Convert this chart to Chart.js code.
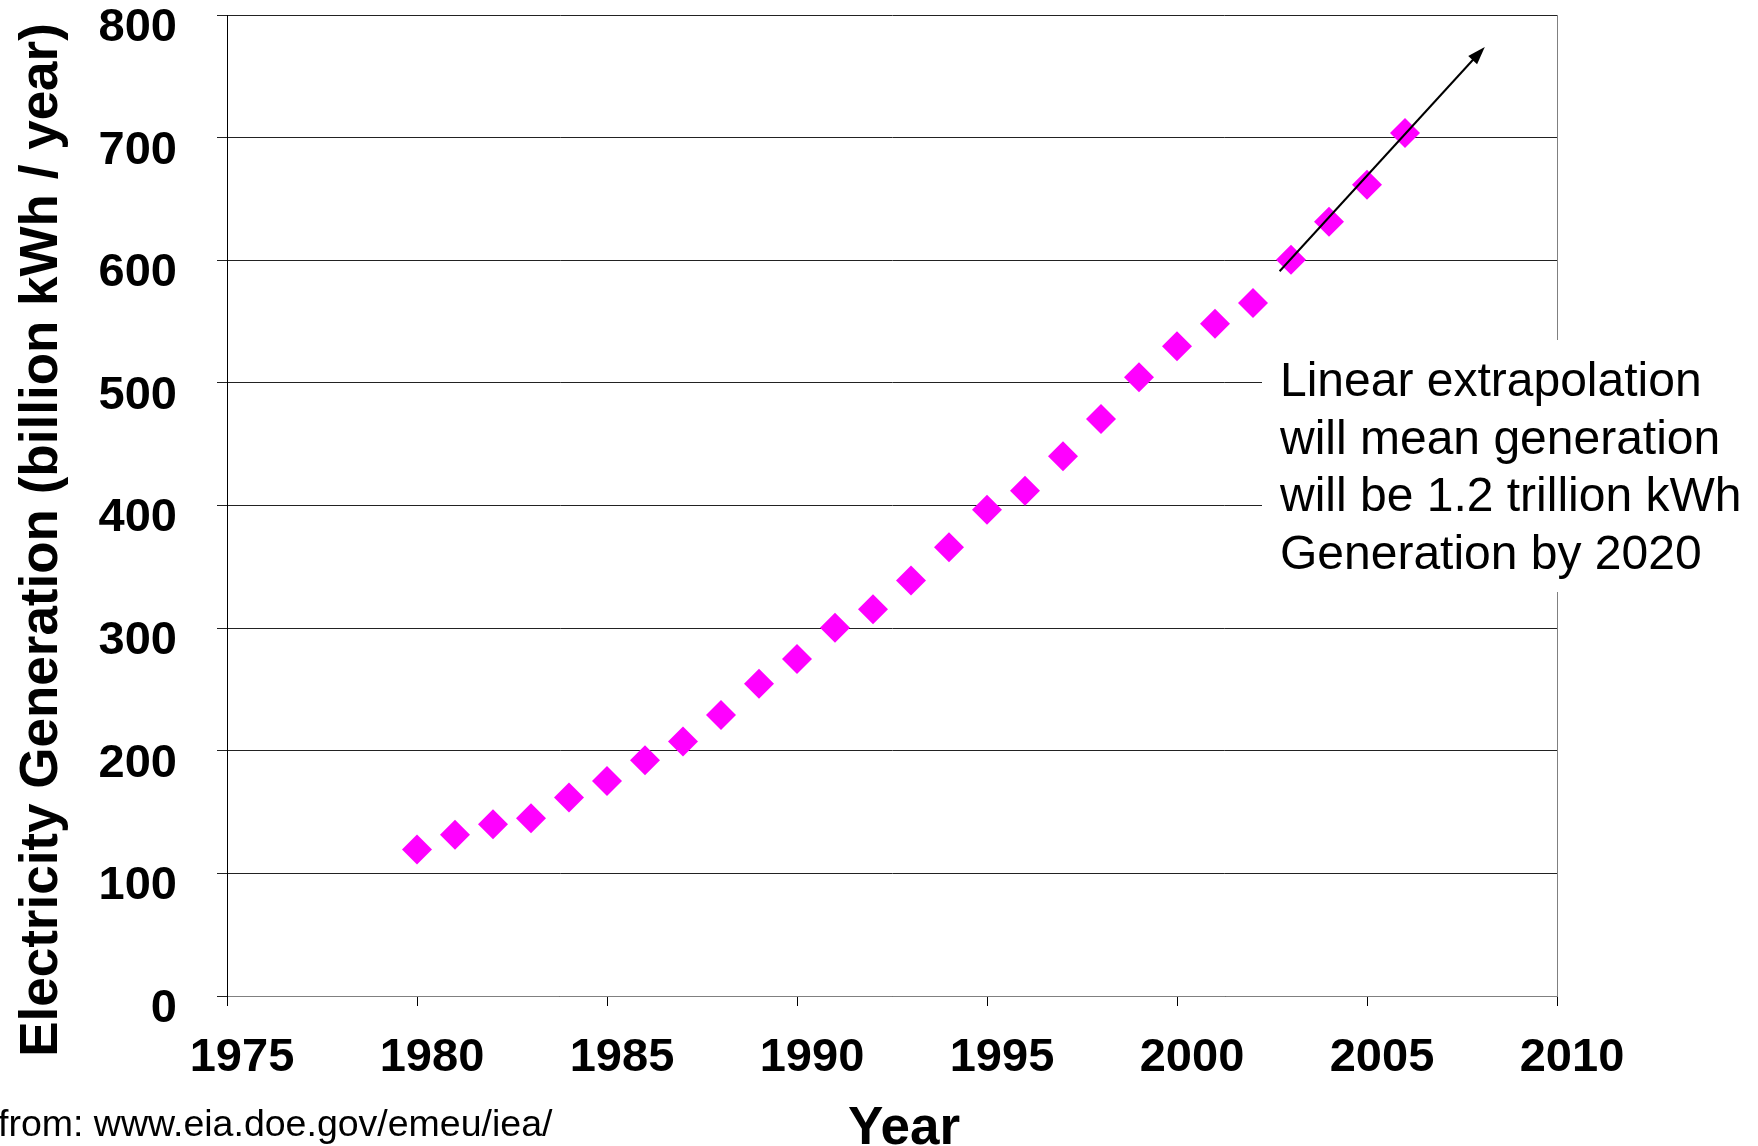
<!DOCTYPE html>
<html>
<head>
<meta charset="utf-8">
<script src="https://cdn.jsdelivr.net/npm/chart.js@4.4.1/dist/chart.umd.min.js"></script>
<style>
  html, body { margin: 0; padding: 0; background: #fff; }
  #wrap { width: 1758px; height: 1146px; }
</style>
</head>
<body>
<div id="wrap"><canvas id="genChart" width="1758" height="1146"></canvas></div>
<script>
const years = [1980, 1981, 1982, 1983, 1984, 1985, 1986, 1987, 1988, 1989, 1990, 1991, 1992, 1993,
  1994, 1995, 1996, 1997, 1998, 1999, 2000, 2001, 2002, 2003, 2004, 2005, 2006];
const generation = [119.5, 131.4, 140.1, 145, 161.9, 175.4, 192.3, 207.5, 229.2, 254.7, 274.8, 300.3,
  315.3, 338.9, 366, 396.5, 412, 440.2, 470.6, 504.5, 529.8, 548.3, 565.1, 600.4, 631.4, 661.6, 703.7];
const yearTicks = [1975, 1980, 1985, 1990, 1995, 2000, 2005, 2010];
const valueTicks = [0, 100, 200, 300, 400, 500, 600, 700, 800];
const noteLines = ["Linear extrapolation", "will mean generation", "will be 1.2 trillion kWh", "Generation by 2020"];
// extrapolation arrow, in data units (year, billion kWh)
const trendArrow = [[2002.7, 591], [2008.1, 774]];

const FONT = "'Liberation Sans', Arial, Helvetica, sans-serif";
Chart.defaults.color = "#000";
Chart.defaults.font.family = FONT;

const extras = {
  id: "extras",
  afterDatasetsDraw(chart) {
    const ctx = chart.ctx;
    const a = chart.chartArea;
    const xs = chart.scales.x, ys = chart.scales.y;
    ctx.save();
    // right frame
    ctx.strokeStyle = "#808080";
    ctx.lineWidth = 1;
    ctx.beginPath();
    ctx.moveTo(a.right + 0.5, a.top);
    ctx.lineTo(a.right + 0.5, a.bottom);
    ctx.stroke();

    // note box
    ctx.fillStyle = "#fff";
    ctx.fillRect(1262, 340, 496, 252);
    ctx.fillStyle = "#000";
    ctx.font = "48px " + FONT;
    ctx.textAlign = "left";
    ctx.textBaseline = "alphabetic";
    noteLines.forEach((t, i) => ctx.fillText(t, 1280, 396 + i * 57.5));

    // arrow
    const x1 = xs.getPixelForValue(trendArrow[0][0]), y1 = ys.getPixelForValue(trendArrow[0][1]);
    const x2 = xs.getPixelForValue(trendArrow[1][0]), y2 = ys.getPixelForValue(trendArrow[1][1]);
    const ang = Math.atan2(y2 - y1, x2 - x1);
    const hl = 18, hw = 6;
    ctx.strokeStyle = "#000";
    ctx.lineWidth = 2;
    ctx.beginPath();
    ctx.moveTo(x1, y1);
    ctx.lineTo(x2 - Math.cos(ang) * hl * 0.8, y2 - Math.sin(ang) * hl * 0.8);
    ctx.stroke();
    ctx.beginPath();
    ctx.moveTo(x2, y2);
    ctx.lineTo(x2 - Math.cos(ang) * hl - Math.sin(ang) * hw, y2 - Math.sin(ang) * hl + Math.cos(ang) * hw);
    ctx.lineTo(x2 - Math.cos(ang) * hl + Math.sin(ang) * hw, y2 - Math.sin(ang) * hl - Math.cos(ang) * hw);
    ctx.closePath();
    ctx.fillStyle = "#000";
    ctx.fill();

    // axis titles
    ctx.font = "bold 53px " + FONT;
    ctx.textAlign = "center";
    ctx.save();
    ctx.translate(57, 540);
    ctx.rotate(-Math.PI / 2);
    ctx.fillText("Electricity Generation (billion kWh / year)", 0, 0);
    ctx.restore();
    ctx.font = "bold 53px " + FONT;
    ctx.fillText("Year", 904, 1144);

    // source
    ctx.font = "37.5px " + FONT;
    ctx.textAlign = "left";
    ctx.fillText("from: www.eia.doe.gov/emeu/iea/", -2, 1136);
    ctx.restore();
  }
};

new Chart(document.getElementById("genChart"), {
  type: "scatter",
  data: {
    datasets: [{
      data: years.map((y, i) => ({ x: y, y: generation[i] })),
      pointStyle: "rectRot",
      pointRadius: 15,
      pointHoverRadius: 15,
      pointBorderWidth: 0,
      backgroundColor: "#FF00FF",
      borderColor: "#FF00FF"
    }]
  },
  options: {
    responsive: false,
    devicePixelRatio: 1,
    animation: false,
    layout: { padding: { top: 14, right: 201, left: 0, bottom: 0 } },
    plugins: { legend: { display: false }, tooltip: { enabled: false } },
    scales: {
      x: {
        type: "linear",
        min: 1975,
        max: 2010,
        afterBuildTicks: s => { s.ticks = yearTicks.map(v => ({ value: v })); },
        afterFit: s => { s.height = 150; s.paddingLeft = 0; s.paddingRight = 0; },
        grid: { drawOnChartArea: false, tickLength: 10, color: "#000" },
        border: { color: "#808080", width: 1 },
        ticks: {
          font: { size: 47, weight: "bold" },
          padding: 24,
          labelOffset: 15,
          maxRotation: 0,
          callback: v => String(v)
        }
      },
      y: {
        min: 0,
        max: 800,
        afterBuildTicks: s => { s.ticks = valueTicks.map(v => ({ value: v })); },
        afterFit: s => { s.width = 227; s.paddingTop = 0; s.paddingBottom = 0; },
        grid: { color: "#222", tickLength: 10 },
        border: { color: "#000", width: 1 },
        ticks: {
          font: { size: 47, weight: "bold" },
          padding: 40,
          labelOffset: 13
        }
      }
    }
  },
  plugins: [extras]
});
</script>
</body>
</html>
